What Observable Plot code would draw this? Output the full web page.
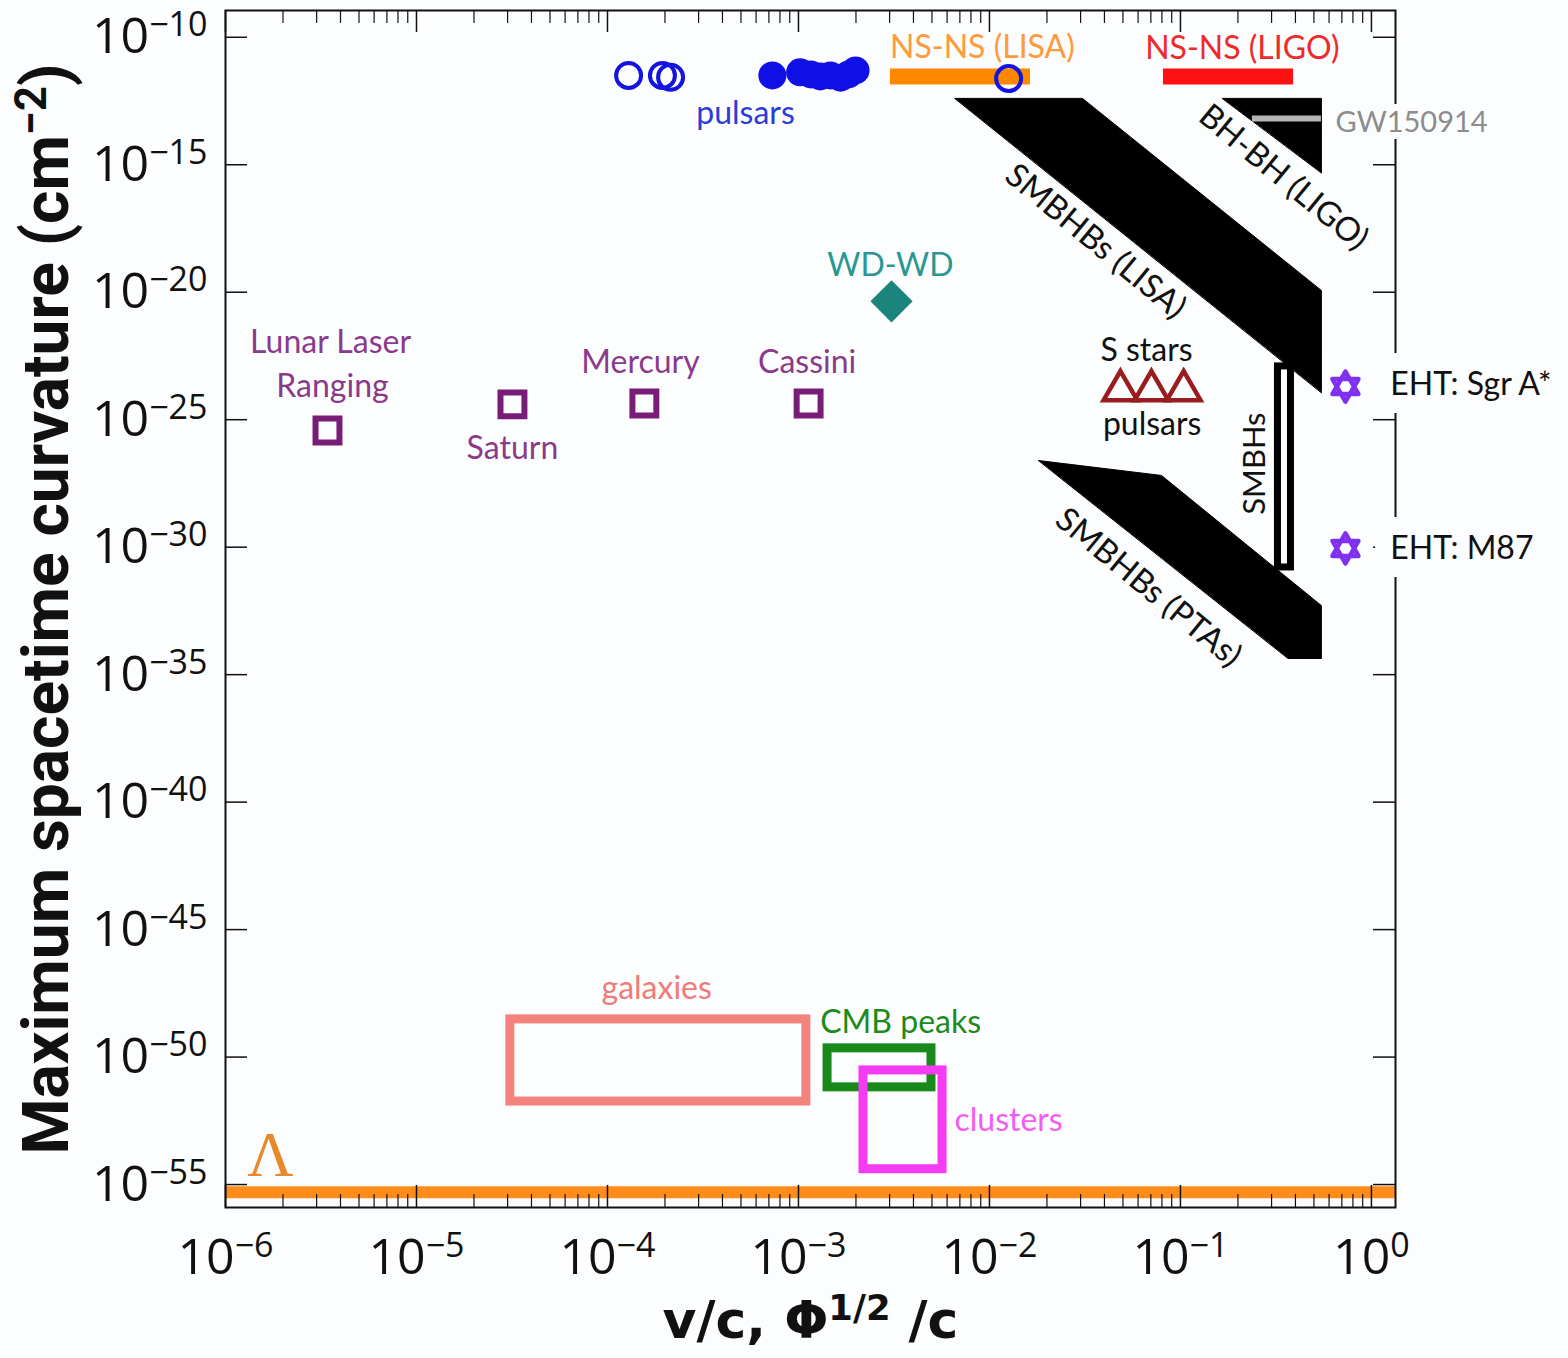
<!DOCTYPE html>
<html>
<head>
<meta charset="utf-8">
<script src="https://cdn.jsdelivr.net/npm/d3@7"></script>
<script src="https://cdn.jsdelivr.net/npm/@observablehq/plot@0.6"></script>
<style>
  html, body { margin: 0; padding: 0; background: #fbfdfe; }
  svg { display: block; }
</style>
</head>
<body>
<div id="chart"></div>
<script>
// ---------- axes ----------
const xTickExps = [-6, -5, -4, -3, -2, -1, 0];
const yTickExps = [-10, -15, -20, -25, -30, -35, -40, -45, -50, -55];
const minorMultipliers = [2, 3, 4, 5, 6, 7, 8, 9];

// ---------- solar-system tests (open squares) ----------
const solarNames = ["Lunar Laser Ranging", "Saturn", "Mercury", "Cassini"];
const solarX = [3.42e-6, 3.18e-5, 1.56e-4, 1.13e-3];
const solarY = [3.8e-26, 4.0e-25, 4.3e-25, 4.3e-25];

// ---------- binary pulsars ----------
const pulsarOpenX = [1.29e-4, 1.94e-4, 2.14e-4, 1.26e-2];
const pulsarOpenY = [3.2e-12, 3.2e-12, 2.7e-12, 2.4e-12];
const pulsarFilledX = [7.3e-4, 1.02e-3, 1.16e-3, 1.30e-3, 1.47e-3, 1.66e-3, 1.83e-3, 1.99e-3];
const pulsarFilledY = [3.2e-12, 4.2e-12, 3.5e-12, 2.9e-12, 3.2e-12, 2.6e-12, 3.5e-12, 5.0e-12];

// ---------- WD-WD ----------
const wdX = [3.07e-3];
const wdY = [4.4e-21];

// ---------- NS-NS bars ----------
const nsnsNames = ["NS-NS (LISA)", "NS-NS (LIGO)"];
const nsnsX1 = [3.03e-3, 8.15e-2];
const nsnsX2 = [1.64e-2, 0.391];
const nsnsY = [2.9e-12, 2.9e-12];

// ---------- GW regions (polygons) ----------
const bhbhLigoX = [0.166, 0.547, 0.547];
const bhbhLigoY = [4.0e-13, 4.0e-13, 4.9e-16];
const smbhbLisaX = [6.6e-3, 3.07e-2, 0.547, 0.547];
const smbhbLisaY = [4.0e-13, 4.0e-13, 1.17e-20, 1.17e-24];
const smbhbPtaX = [1.81e-2, 7.96e-2, 0.547, 0.547, 0.367];
const smbhbPtaY = [2.5e-27, 6.5e-28, 5.1e-33, 4.3e-35, 4.3e-35];

// ---------- GW150914 ----------
const gwX = [0.238, 0.547];
const gwY = 6.5e-14;

// ---------- SMBHs range ----------
const smbhX = [0.324, 0.379];
const smbhY = [1.6e-31, 1.23e-23];

// ---------- S stars / pulsars (triangles) ----------
const sstarsX = [0.0485, 0.0705, 0.104];
const sstarsY = [1.4e-24, 1.4e-24, 1.4e-24];

// ---------- EHT ----------
const ehtNames = ["EHT: Sgr A*", "EHT: M87"];
const ehtX = [0.731, 0.731];
const ehtY = [2.0e-24, 8.9e-31];

// ---------- cosmology boxes ----------
const cosmoNames = ["galaxies", "CMB peaks", "clusters"];
const cosmoX1 = [3.1e-5, 1.42e-3, 2.19e-3];
const cosmoX2 = [1.1e-3, 4.97e-3, 5.68e-3];
const cosmoY1 = [1.8e-52, 6.5e-52, 4.0e-55];
const cosmoY2 = [3.0e-49, 2.2e-50, 3.0e-51];

// ---------- cosmological constant ----------
const lambdaY = 5.0e-56;

// ---------- annotation labels ----------
const labelText = ["Lunar Laser", "Ranging", "Saturn", "Mercury", "Cassini",
  "pulsars", "WD-WD", "NS-NS (LISA)", "NS-NS (LIGO)", "GW150914",
  "BH-BH (LIGO)", "SMBHBs (LISA)", "SMBHBs (PTAs)", "SMBHs", "S stars", "pulsars",
  "EHT: Sgr A*", "EHT: M87", "galaxies", "CMB peaks", "clusters", "Λ"];
const labelX = [3.55e-6, 3.63e-6, 3.18e-5, 1.49e-4, 1.11e-3,
  5.28e-4, 3.03e-3, 9.18e-3, 0.211, 0.649,
  0.346, 0.0359, 0.0679, 0.247, 0.0664, 0.0711,
  1.256, 1.256, 1.81e-4, 1.30e-3, 6.56e-3, 1.72e-6];
const labelY = [1.07e-22, 2.0e-24, 7.4e-27, 1.74e-23, 1.74e-23,
  1.0e-13, 1.10e-19, 4.0e-11, 3.6e-11, 4.6e-14,
  3.2e-16, 9.8e-19, 2.6e-32, 1.9e-27, 5.1e-23, 6.2e-26,
  2.3e-24, 8.7e-31, 5.0e-48, 2.3e-49, 3.3e-53, 1.38e-54];

const xTitle = "v/c, Φ^{1/2} /c";
const yTitle = "Maximum spacetime curvature (cm^{−2})";

// ---------- build tables ----------
const zip = (xs, ys, extra = {}) => xs.map((x, i) => ({x, y: ys[i], ...Object.fromEntries(Object.entries(extra).map(([k, v]) => [k, v[i]]))}));
const solar = zip(solarX, solarY, {name: solarNames});
const pulsarOpen = zip(pulsarOpenX, pulsarOpenY);
const pulsarFilled = zip(pulsarFilledX, pulsarFilledY);
const wd = zip(wdX, wdY);
const nsns = nsnsNames.map((name, i) => ({name, x1: nsnsX1[i], x2: nsnsX2[i], y: nsnsY[i]}));
const bhbhLigo = zip(bhbhLigoX, bhbhLigoY);
const smbhbLisa = zip(smbhbLisaX, smbhbLisaY);
const smbhbPta = zip(smbhbPtaX, smbhbPtaY);
const gw = [{x1: gwX[0], x2: gwX[1], y: gwY}];
const smbh = [{x1: smbhX[0], x2: smbhX[1], y1: smbhY[0], y2: smbhY[1]}];
const sstars = zip(sstarsX, sstarsY);
const eht = zip(ehtX, ehtY, {name: ehtNames});
const cosmo = cosmoNames.map((name, i) => ({name, x1: cosmoX1[i], x2: cosmoX2[i], y1: cosmoY1[i], y2: cosmoY2[i]}));
const labels = labelText.map((text, i) => ({text, x: labelX[i], y: labelY[i]}));
const xMajor = xTickExps.map(e => 10 ** e);
const xMinor = xTickExps.slice(0, -1).flatMap(e => minorMultipliers.map(k => k * 10 ** e));
const yMajor = yTickExps.map(e => 10 ** e);
const expText = e => `10^{${e < 0 ? "\u2212" + Math.abs(e) : e}}`;

// ---------- layout ----------
const W = 1568, H = 1358;
const mL = 225, mR = 173, mT = 10, mB = 151;
const PW = W - mL - mR, PH = H - mT - mB;
const BG = "#fbfdfe";
const INK = "#111";

const hexagram = {
  draw(ctx, size) {
    const r = Math.sqrt(size / Math.PI);
    for (const a0 of [-90, 90]) {
      for (let i = 0; i < 3; i++) {
        const a = (a0 + i * 120) * Math.PI / 180;
        const px = r * Math.cos(a), py = r * Math.sin(a);
        if (i === 0) ctx.moveTo(px, py); else ctx.lineTo(px, py);
      }
      ctx.closePath();
    }
  }
};

const lab = (i, opts = {}) => Plot.text([labels[i]], {
  x: "x", y: "y", text: "text", fontFamily: "Lato", fontSize: 32, fill: INK, lineAnchor: "middle", ...opts
});
const cbox = (name, color) => Plot.rect(cosmo.filter(d => d.name === name), {
  x1: "x1", x2: "x2", y1: "y1", y2: "y2", fill: "none", stroke: color, strokeWidth: 9
});
const poly = (data) => Plot.line(data, {x: "x", y: "y", curve: "linear-closed", fill: "black", stroke: "black", strokeWidth: 1});

const svg = Plot.plot({
  width: W, height: H,
  marginLeft: mL, marginRight: mR, marginTop: mT, marginBottom: mB,
  style: {background: BG, overflow: "visible"},
  x: {type: "log", domain: [1e-6, 10 ** 0.126], axis: null},
  y: {type: "log", domain: [10 ** -55.9, 10 ** -8.95], axis: null},
  marks: [
    // cosmological constant
    Plot.ruleY([lambdaY], {y: d => d, stroke: "#ff8c1a", strokeWidth: 12}),
    // cosmology boxes
    cbox("galaxies", "#f4827d"),
    cbox("CMB peaks", "#18891a"),
    cbox("clusters", "#f53cf3"),
    // SMBHs range
    Plot.rect(smbh, {x1: "x1", x2: "x2", y1: "y1", y2: "y2", fill: "white", stroke: "black", strokeWidth: 7}),
    // GW polygons
    poly(bhbhLigo),
    poly(smbhbLisa),
    poly(smbhbPta),
    Plot.ruleY(gw, {y: "y", x1: "x1", x2: "x2", stroke: "#b5b5b5", strokeWidth: 6}),
    // NS-NS bars
    Plot.ruleY(nsns.filter(d => d.name === "NS-NS (LISA)"), {y: "y", x1: "x1", x2: "x2", stroke: "#ff8800", strokeWidth: 16}),
    Plot.ruleY(nsns.filter(d => d.name === "NS-NS (LIGO)"), {y: "y", x1: "x1", x2: "x2", stroke: "#ff1111", strokeWidth: 16}),
    // points
    Plot.dot(solar, {x: "x", y: "y", symbol: "square", r: 13.5, fill: "none", stroke: "#781c78", strokeWidth: 6}),
    Plot.dot(pulsarFilled, {x: "x", y: "y", r: 14, fill: "#1010e6", stroke: "none"}),
    Plot.dot(pulsarOpen, {x: "x", y: "y", r: 12.5, fill: "none", stroke: "#1414e0", strokeWidth: 4}),
    Plot.dot(wd, {x: "x", y: "y", symbol: "diamond2", r: 19, fill: "#1b847c", stroke: "none"}),
    Plot.dot(sstars, {x: "x", y: "y", symbol: "triangle", r: 12.5, fill: "none", stroke: "#9b1c1c", strokeWidth: 4.5}),
    Plot.dot(eht, {x: "x", y: "y", symbol: hexagram, r: 15, fill: "none", stroke: "#7f30f0", strokeWidth: 4.5, strokeLinejoin: "round"}),
    // frame and ticks
    Plot.frame({stroke: INK, strokeWidth: 2}),
    Plot.ruleX(xMajor, {x: d => d, insetTop: PH - 22, stroke: INK, strokeWidth: 1.5}),
    Plot.ruleX(xMajor, {x: d => d, insetBottom: PH - 22, stroke: INK, strokeWidth: 1.5}),
    Plot.ruleX(xMinor, {x: d => d, insetTop: PH - 13, stroke: INK, strokeWidth: 1.2}),
    Plot.ruleX(xMinor, {x: d => d, insetBottom: PH - 13, stroke: INK, strokeWidth: 1.2}),
    Plot.ruleY(yMajor, {y: d => d, insetRight: PW - 22, stroke: INK, strokeWidth: 1.5}),
    Plot.ruleY(yMajor, {y: d => d, insetLeft: PW - 22, stroke: INK, strokeWidth: 1.5}),
    // tick labels
    Plot.text(xTickExps, {x: e => 10 ** e, frameAnchor: "bottom", dy: 50, lineAnchor: "middle", textAnchor: "middle", text: expText, fontFamily: "Open Sans", fontSize: 50, fill: INK}),
    Plot.text(yTickExps, {y: e => 10 ** e, frameAnchor: "left", dx: -18, lineAnchor: "middle", textAnchor: "end", text: expText, fontFamily: "Open Sans", fontSize: 50, fill: INK}),
    // axis titles
    Plot.text([yTitle], {text: d => d, frameAnchor: "left", dx: -178, rotate: -90, textAnchor: "middle", lineAnchor: "middle", fontFamily: "Roboto", fontWeight: "bold", fontSize: 64, fill: INK}),
    Plot.text([xTitle], {text: d => d, frameAnchor: "bottom", dy: 114, textAnchor: "middle", lineAnchor: "middle", fontFamily: "DejaVu Sans", fontWeight: "bold", fontSize: 52, fill: INK}),
    // annotations
    lab(0, {fill: "#8b3a8b"}),
    lab(1, {fill: "#8b3a8b"}),
    lab(2, {fill: "#8b3a8b"}),
    lab(3, {fill: "#8b3a8b"}),
    lab(4, {fill: "#8b3a8b"}),
    lab(5, {fill: "#2b3cd8"}),
    lab(6, {fill: "#2a9890"}),
    lab(7, {fill: "#ff9a3c"}),
    lab(8, {fill: "#ee2b2b"}),
    lab(9, {fill: "#8c8c8c", fontSize: 29, textAnchor: "start", stroke: BG, strokeWidth: 14, paintOrder: "stroke", strokeLinejoin: "round"}),
    lab(10, {rotate: 39.5, fontSize: 33}),
    lab(11, {rotate: 39.5, fontSize: 33}),
    lab(12, {rotate: 39.5, fontSize: 33}),
    lab(13, {rotate: -90, fontSize: 31}),
    lab(14),
    lab(15),
    lab(16, {textAnchor: "start", stroke: BG, strokeWidth: 36, paintOrder: "stroke", strokeLinejoin: "round"}),
    lab(17, {textAnchor: "start", stroke: BG, strokeWidth: 36, paintOrder: "stroke", strokeLinejoin: "round"}),
    lab(18, {fill: "#f07b78"}),
    lab(19, {fill: "#1b8c1b", textAnchor: "start"}),
    lab(20, {fill: "#f55cf5", textAnchor: "start"}),
    lab(21, {fill: "#e8892b", fontFamily: "Liberation Serif", fontSize: 64})
  ]
});

// superscripts: "a^{b}c" -> tspans
function supify(root) {
  const NS = "http://www.w3.org/2000/svg";
  root.querySelectorAll("text").forEach(t => {
    const s = t.textContent;
    if (!s || !s.includes("^{")) return;
    const parts = s.split(/\^\{([^}]*)\}/);
    while (t.firstChild) t.removeChild(t.firstChild);
    let raised = false;
    parts.forEach((p, i) => {
      if (!p) return;
      const ts = document.createElementNS(NS, "tspan");
      ts.textContent = p;
      if (i % 2 === 1) { ts.setAttribute("font-size", "68%"); ts.setAttribute("dy", "-0.5em"); raised = true; }
      else if (raised) { ts.setAttribute("dy", "0.34em"); raised = false; }
      t.appendChild(ts);
    });
  });
}
supify(svg);
document.getElementById("chart").appendChild(svg);
</script>
</body>
</html>
